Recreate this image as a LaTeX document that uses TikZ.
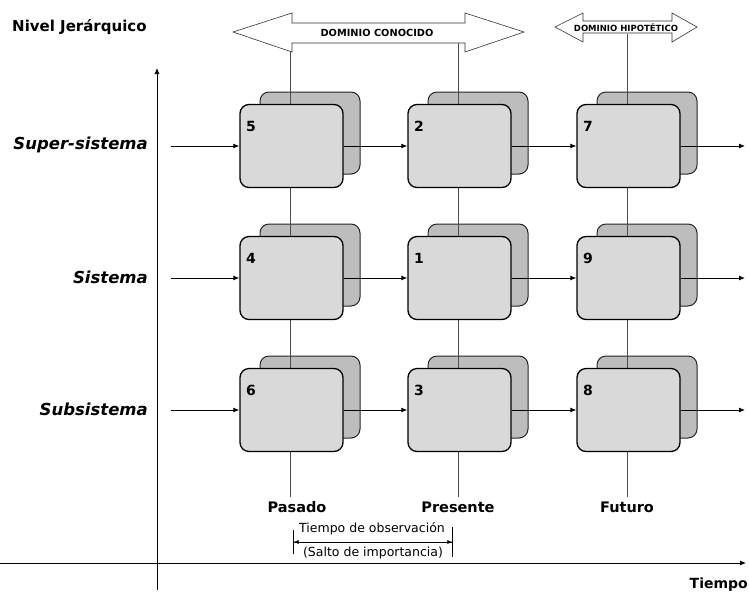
\documentclass[tikz,border=0pt]{standalone}
\usepackage{fontspec}
\setmainfont{DejaVu Sans}
\usetikzlibrary{arrows.meta}
\pgfdeclarelayer{back}
\pgfdeclarelayer{mid}
\pgfsetlayers{back,mid,main}

\begin{document}
\begin{tikzpicture}[x=1pt,y=-1pt,
  backbox/.style={draw=black!85, line width=1pt, fill=black!26, rounded corners=9pt,
    minimum width=100pt, minimum height=82pt, inner sep=0pt},
  frontbox/.style={draw=black, line width=1.3pt, fill=black!15, rounded corners=9pt,
    minimum width=103pt, minimum height=83pt, inner sep=0pt},
  flow/.style={line width=0.9pt, -{Latex[length=6pt,width=5pt]}},
  colline/.style={line width=0.6pt, black!70},
  axis/.style={line width=0.8pt, -{Latex[length=6pt,width=5pt]}},
  domarrow/.style={draw=black!80, line width=0.6pt, fill=white},
  boxnum/.style={font=\bfseries\fontsize{14}{16}\selectfont, inner sep=0pt},
  rowlabel/.style={font=\bfseries\itshape\fontsize{16.5}{19}\selectfont, anchor=east, inner sep=0pt},
  collabel/.style={font=\bfseries\fontsize{14.5}{17}\selectfont, inner sep=0pt},
  domtext/.style={font=\bfseries\fontsize{#1}{#1}\selectfont, inner sep=0pt},
]
\useasboundingbox (0,0) rectangle (749,595);

% axes
\coordinate (yb) at (157,590);
\coordinate (yt) at (157,68);
\coordinate (xl) at (0,563);
\coordinate (xr) at (746,563);
\draw[axis] (yb) -- (yt);
\draw[axis] (xl) -- (xr);

\node[font=\bfseries\fontsize{15}{18}\selectfont, anchor=west, inner sep=0pt] (nivel) at (12,27) {Nivel Jerárquico};
\node[font=\bfseries\fontsize{14}{17}\selectfont, anchor=east, inner sep=0pt] (tiempo) at (748,585) {Tiempo};

% row labels
\node[rowlabel] (lsup) at (148,145) {Super-sistema};
\node[rowlabel] (lsis) at (148,277) {Sistema};
\node[rowlabel] (lsub) at (148,409) {Subsistema};

% boxes: each state drawn as a front card with a second card behind it
\foreach \n/\cx/\ry in {5/290/145, 2/458/145, 7/627/145,
                        4/290/277, 1/458/277, 9/627/277,
                        6/290/409, 3/458/409, 8/627/409}{
  \begin{pgfonlayer}{back}
    \node[backbox] (back-\n) at (\cx+20,\ry-12) {};
  \end{pgfonlayer}
  \node[frontbox] (front-\n) at (\cx+1.5,\ry+1) {};
  \node[boxnum] (num-\n) at (\cx-39,\ry-19) {\n};
}

% column lines and flows between states
\begin{pgfonlayer}{mid}
  \foreach \k/\cx/\top in {1/290/43, 2/458/43, 3/627/34}{
    \coordinate (ct-\k) at (\cx,\top);
    \coordinate (cb-\k) at (\cx,497);
    \draw[colline] (ct-\k) -- (cb-\k);
  }
  \foreach \k/\ry/\a/\b/\c in {1/145/5/2/7, 2/277/4/1/9, 3/409/6/3/8}{
    \coordinate (rs-\k) at (171,\ry+1);
    \coordinate (re-\k) at (745,\ry+1);
    \draw[flow] (rs-\k) -- (front-\a.west);
    \draw[flow] (front-\a.east) -- (front-\b.west);
    \draw[flow] (front-\b.east) -- (front-\c.west);
    \draw[flow] (front-\c.east) -- (re-\k);
  }
\end{pgfonlayer}

% domain arrows
\draw[domarrow] (233,32) -- (292,13) -- (292,23) -- (465,23) -- (465,13) -- (524,32)
  -- (465,52) -- (465,43) -- (292,43) -- (292,52) -- cycle;
\node[domtext=9.8] (dconoc) at (377,33) {DOMINIO CONOCIDO};
\draw[domarrow] (555,27) -- (583,13) -- (583,21) -- (672,21) -- (672,13) -- (697,27)
  -- (672,42) -- (672,33) -- (583,33) -- (583,42) -- cycle;
\node[domtext=8.5] (dhipot) at (626,27.5) {DOMINIO HIPOTÉTICO};

% column labels
\node[collabel] (pasado) at (297,507) {Pasado};
\node[collabel] (presente) at (458,507) {Presente};
\node[collabel] (futuro) at (627,507) {Futuro};

% observation span
\coordinate (obl) at (293,542);
\coordinate (obr) at (453,542);
\draw[line width=0.6pt, {Bar[width=24pt]Latex[length=5pt,width=4pt]}-{Latex[length=5pt,width=4pt]Bar[width=30pt]}] (obl) -- (obr);
\node[font=\fontsize{12.5}{14}\selectfont, inner sep=0pt] (tobs) at (372,529) {Tiempo de observación};
\node[font=\fontsize{12.5}{14}\selectfont, inner sep=0pt] (salto) at (373,553) {(Salto de importancia)};
\end{tikzpicture}
\end{document}
